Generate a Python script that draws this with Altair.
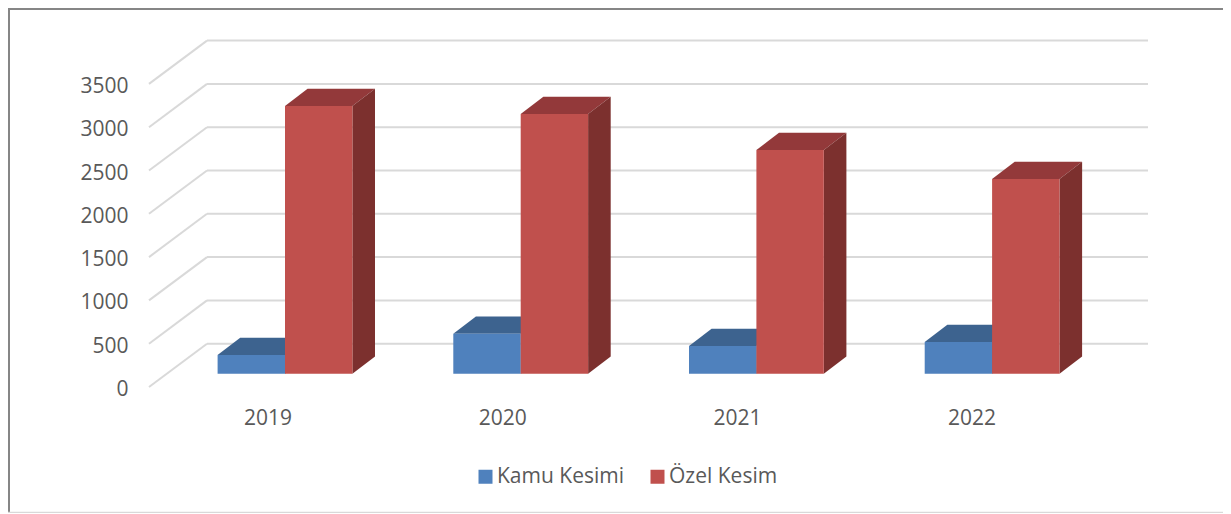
import altair as alt
import pandas as pd

years = ["2019", "2020", "2021", "2022"]
kamu = [216, 462, 320, 366]
ozel = [3091, 2999, 2583, 2248]
y_ticks = [0, 500, 1000, 1500, 2000, 2500, 3000, 3500]
series = ["Kamu Kesimi", "Özel Kesim"]
front_colors = ["#4F81BD", "#C0504D"]
top_colors = ["#3D638F", "#93393A"]
side_colors = ["#3A5F8B", "#7C302E"]

W, H = 1215, 505
PX_Y = 0.0866          # pixels per y unit
UNIT_X = 235.7         # pixels per category step
LABEL_STEP = 234.7 / UNIT_X
X0 = 277.0             # pixel position of the first category's boundary between bars
Y0 = 379.0             # pixel position of axis value 0

x_dom = [-X0 / UNIT_X, (W - X0) / UNIT_X]
y_dom = [(Y0 - H) / PX_Y, Y0 / PX_Y]
xs = alt.Scale(domain=x_dom, nice=False, zero=False)
ys = alt.Scale(domain=y_dom, nice=False, zero=False)
X = lambda f, **k: alt.X(f, type="quantitative", scale=xs, axis=None, title=None, **k)
Y = lambda f, **k: alt.Y(f, type="quantitative", scale=ys, title=None, stack=None, **k)

bar_w = 67.4 / UNIT_X
dx = 22.6 / UNIT_X
dy = 17.3 / PX_Y
base = 153.0
wall_l, wall_c, wall_r = (141 - X0) / UNIT_X, (199 - X0) / UNIT_X, (1140 - X0) / UNIT_X
wall_dy = 500

# walls
diag = pd.DataFrame(
    [{"t": t, "x": wall_l, "y": t} for t in y_ticks]
    + [{"t": t, "x": wall_c, "y": t + wall_dy} for t in y_ticks]
)
back = pd.DataFrame({"x": [wall_c] * len(y_ticks), "x2": [wall_r] * len(y_ticks),
                     "y": [t + wall_dy for t in y_ticks]})

fronts, tops, sides = [], [], []
for i in range(len(years)):
    for s, vals in enumerate([kamu, ozel]):
        x0 = i + (s - 1) * bar_w
        x1 = x0 + bar_w
        top = base + vals[i]
        key = f"{years[i]}-{s}"
        fronts.append({"x": x0, "x2": x1, "y": top, "y2": base, "series": series[s]})
        for k in (0, 1):
            tops.append({"key": key, "x": x0 + k * dx, "x2": x1 + k * dx,
                         "y": top + k * dy, "c": top_colors[s]})
            sides.append({"key": key, "x": x1 + k * dx, "y": top + k * dy,
                          "y2": base + k * dy, "c": side_colors[s]})
fronts, tops, sides = map(pd.DataFrame, (fronts, tops, sides))

labels = pd.DataFrame({"x": [i * LABEL_STEP - 17 / UNIT_X for i in range(4)], "year": years})

FONT = "Open Sans"
TXT = "#595959"
GRID = "#D9D9D9"

diag_l = alt.Chart(diag).mark_line(color=GRID, strokeWidth=2).encode(
    x=X("x"),
    y=alt.Y("y:Q", scale=ys, title=None, axis=alt.Axis(
        values=y_ticks, orient="left", domain=False, ticks=False, grid=False, offset=-120,
        format="d", labelFont=FONT, labelFontSize=21, labelColor=TXT, labelPadding=0, labelOffset=2.5)),
    detail="t:N",
)
back_l = alt.Chart(back).mark_rule(color=GRID, strokeWidth=2).encode(x=X("x"), x2="x2", y=Y("y"))
top_l = alt.Chart(tops).mark_area(orient="horizontal", opacity=1).encode(
    y=Y("y"), x=X("x"), x2="x2", detail="key:N", color=alt.Color("c:N", scale=None))
side_l = alt.Chart(sides).mark_area(orient="vertical", opacity=1).encode(
    x=X("x"), y=Y("y"), y2="y2", detail="key:N", color=alt.Color("c:N", scale=None))
front_l = alt.Chart(fronts).mark_rect().encode(
    x=X("x"), x2="x2", y=Y("y"), y2="y2",
    color=alt.Color("series:N", title=None,
                    scale=alt.Scale(domain=series, range=front_colors),
                    legend=alt.Legend(orient="none", legendX=467, legendY=458, direction="horizontal",
                                      columns=2, columnPadding=22, symbolType="square", symbolSize=196,
                                      symbolStrokeWidth=0, labelOffset=1, labelFont=FONT,
                                      labelFontSize=21, labelColor=TXT)),
)
year_l = alt.Chart(labels).mark_text(font=FONT, fontSize=21, color=TXT, align="center", baseline="middle").encode(
    x=X("x"), y=alt.value(411), text="year:N")

dummy = pd.DataFrame({"a": [0]})
b_left = alt.Chart(dummy).mark_rule(color="#868686", strokeWidth=2).encode(
    x=alt.value(1), y=alt.value(0), y2=alt.value(H))
b_top = alt.Chart(dummy).mark_rule(color="#868686", strokeWidth=2).encode(
    y=alt.value(1), x=alt.value(0), x2=alt.value(W))
b_bot = alt.Chart(dummy).mark_rule(color=GRID, strokeWidth=1.5).encode(
    y=alt.value(H - 0.5), x=alt.value(0), x2=alt.value(W))

chart = alt.layer(
    diag_l, back_l, top_l, side_l, front_l, year_l, b_left, b_top, b_bot
).properties(
    width=W, height=H, padding=0, background="white",
    autosize=alt.AutoSizeParams(type="none"),
).resolve_scale(color="independent").configure_view(stroke=None)

chart.save("out.html", embed_options={"renderer": "svg", "actions": False})
